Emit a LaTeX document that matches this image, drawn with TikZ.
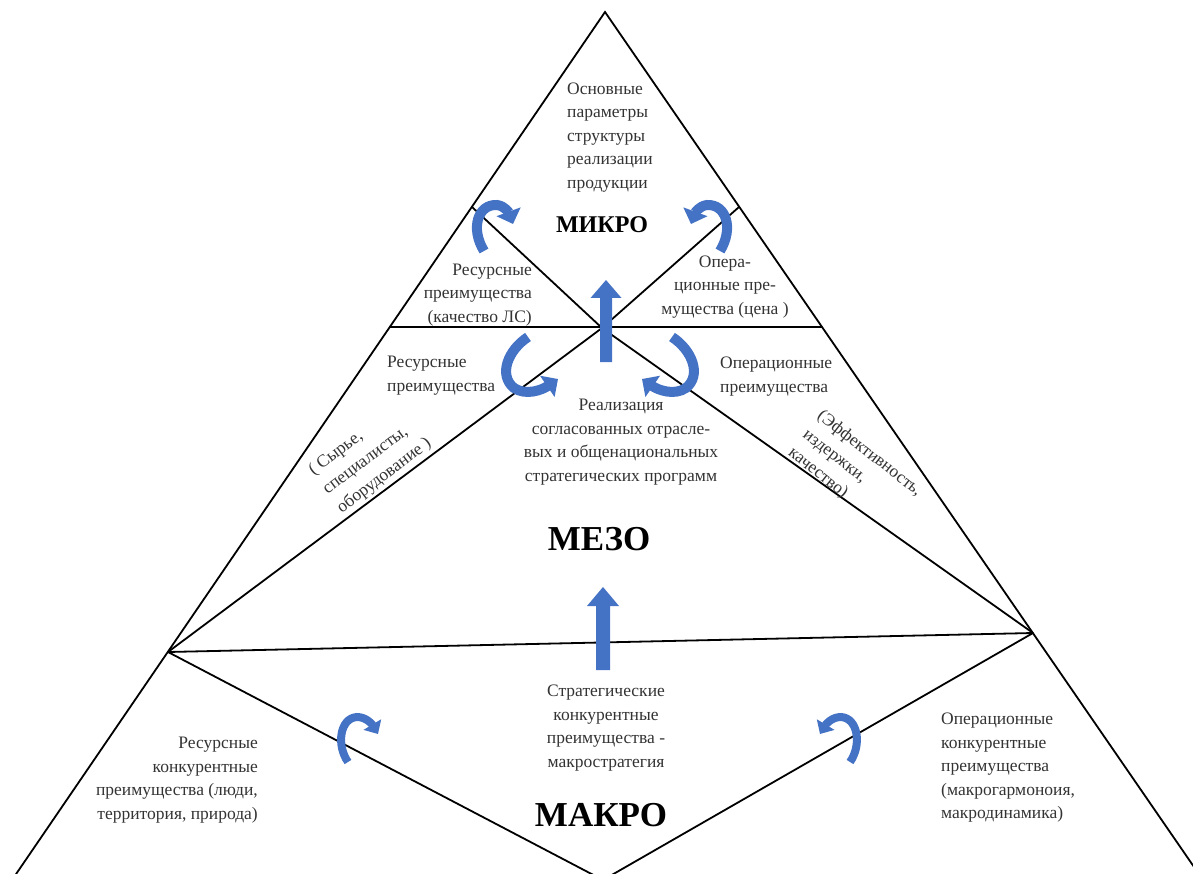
\documentclass[tikz,border=0pt]{standalone}
\usepackage{fontspec}
\setmainfont{Liberation Serif}
\usetikzlibrary{arrows.meta}
\definecolor{ablue}{HTML}{4472C4}
\definecolor{tgray}{HTML}{333333}
\begin{document}
\begin{tikzpicture}[x=1pt,y=-1pt,
  edge/.style={draw=black,line width=1.8pt},
  lbl/.style={inner sep=0pt,text=tgray,font=\fontsize{17.5}{23.5}\selectfont},
  bigA/.style={inner sep=0pt,font=\bfseries\fontsize{35}{40}\selectfont},
  bigB/.style={inner sep=0pt,font=\bfseries\fontsize{24}{28}\selectfont},
  curvA/.style={draw=ablue,line width=10pt,-{Triangle[width=25pt,length=13pt]}},
  curvS/.style={draw=ablue,line width=8pt,-{Triangle[width=20pt,length=11pt]}},
  blockarrow/.style={fill=ablue}]
\useasboundingbox (0,0) rectangle (1193,874);
\clip (0,0) rectangle (1193,874);
% points
\coordinate (A) at (605,12);
\coordinate (BLx) at (12,880);
\coordinate (BRx) at (1203,880);
\coordinate (P1) at (472,207);
\coordinate (P2) at (739,207);
\coordinate (HL) at (390,327);
\coordinate (HR) at (822,327);
\coordinate (C) at (602,328);
\coordinate (V1) at (168,652);
\coordinate (V2) at (1033,633);
\coordinate (B) at (603,880);
% lines
\draw[edge] (BLx) -- (A) -- (BRx);
\draw[edge] (HL) -- (HR);
\draw[edge] (P1) -- (C);
\draw[edge] (P2) -- (C);
\draw[edge] (C) -- (V1);
\draw[edge] (C) -- (V2);
\draw[edge] (V1) -- (V2);
\draw[edge] (V1) -- (B);
\draw[edge] (V2) -- (B);
% block arrows
\fill[blockarrow] (600,362) -- (600,298) -- (590.5,298) -- (606,280) -- (621.5,298) -- (612,298) -- (612,362) -- cycle;
\fill[blockarrow] (596,670) -- (596,606) -- (587,606) -- (603,587) -- (619,606) -- (610,606) -- (610,670) -- cycle;
% curved arrows
\draw[curvA] (484,251) .. controls (470,228) and (478,204) .. (497,205) .. controls (505,206) and (509,213) .. (513,224);
\draw[curvA] (720,251) .. controls (734,228) and (726,204) .. (707,205) .. controls (699,206) and (695,213) .. (691,224);
\draw[curvA] (528,337) .. controls (508,350) and (498,375) .. (514,388) .. controls (526,396) and (542,390) .. (558,379);
\draw[curvA] (672,337) .. controls (692,350) and (702,375) .. (686,388) .. controls (674,396) and (658,390) .. (642,379);
\draw[curvS] (348,762) .. controls (336,745) and (340,718) .. (357,717) .. controls (366,717) and (372,724) .. (378,734);
\draw[curvS] (850,762) .. controls (862,745) and (858,718) .. (841,717) .. controls (832,717) and (826,724) .. (820,734);
% texts
\node[lbl,align=left,anchor=west] (t1) at (567,137.5) {Основные\\параметры\\структуры\\реализации\\продукции};
\node[bigB] (mikro) at (602,225) {МИКРО};
\node[lbl,align=right,anchor=east] (t2) at (532,295) {Ресурсные\\преимущества\\(качество ЛС)};
\node[lbl,align=center] (t3) at (725,287) {Опера-\\ционные пре-\\мущества (цена )};
\node[lbl,align=left,anchor=west] (t4) at (387,375.5) {Ресурсные\\преимущества};
\node[lbl,align=left,anchor=west] (t5) at (720,376.5) {Операционные\\преимущества};
\node[lbl,align=center] (t6) at (621,442) {Реализация\\согласованных отрасле-\\вых и общенациональных\\стратегических программ};
\node[bigA] (mezo) at (599,539) {МЕЗО};
\node[lbl,align=left,anchor=north west,rotate=37] (t7) at (306,466) {( Сырье,\\специалисты,\\оборудование )};
\node[lbl,align=left,anchor=north west,rotate=-38] (t8) at (824,408) {(Эффективность,\\издержки,\\качество)};
\node[lbl,align=center] (t9) at (606,728) {Стратегические\\конкурентные\\преимущества -\\макростратегия};
\node[bigA] (makro) at (601,815) {МАКРО};
\node[lbl,align=right,anchor=east] (t10) at (258,780) {Ресурсные\\конкурентные\\преимущества (люди,\\территория, природа)};
\node[lbl,align=left,anchor=west] (t11) at (941,768) {Операционные\\конкурентные\\преимущества\\(макрогармоноия,\\макродинамика)};
\end{tikzpicture}
\end{document}
